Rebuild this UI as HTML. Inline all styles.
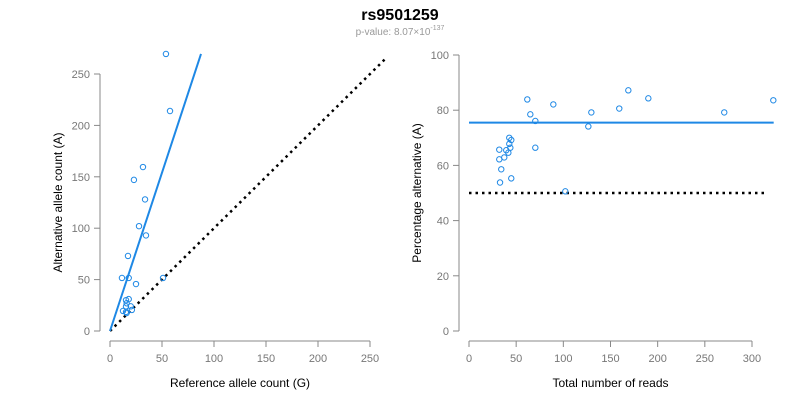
<!DOCTYPE html>
<html><head><meta charset="utf-8"><style>
body{margin:0;background:#fff;font-family:"Liberation Sans",Arial,sans-serif}
svg text{font-family:"Liberation Sans",Arial,sans-serif}
</style></head><body>
<svg id="c" width="800" height="400" xmlns="http://www.w3.org/2000/svg">
<text x="400" y="20" text-anchor="middle" font-size="16" font-weight="bold">rs9501259</text>
<text x="400" y="35" text-anchor="middle" font-size="10" fill="#999">p-value: 8.07×10<tspan dy="-5" font-size="7">-137</tspan></text>
</svg>
<script>
const leftX=[53.8,57.7,31.7,23,33.7,27.9,34.6,17.3,11.5,18,25,51,15.4,16,15.4,20,12.5,15.4,16,21,18];
const leftY=[269.5,214,159.5,147,128,102,93,73,51.6,51.6,45.7,51.6,30,27,24,24,19.5,18.5,17.5,20.5,31];
const leftTicksX=[0,50,100,150,200,250];
const leftTicksY=[0,50,100,150,200,250];
const leftFit=[0,87.5];const leftSlope=3.08;
const rightX=[61.8,89.4,168.9,190.1,322.6,65,129.7,159.3,270.6,70.3,126.5,42.7,44.8,42.7,43.8,32.1,39.5,41.7,70.3,37.4,32.1,34.2,44.8,32.9,102.1];
const rightY=[83.9,82.1,87.2,84.3,83.6,78.5,79.2,80.6,79.2,76.1,74.1,70,69.2,67.8,66.4,65.7,65.5,64.6,66.4,62.9,62.2,58.6,55.3,53.8,50.6];
const rightTicksX=[0,50,100,150,200,250,300];
const rightTicksY=[0,20,40,60,80,100];
const rightMean=75.5;const rightNull=50;
const NS="http://www.w3.org/2000/svg",svg=document.getElementById('c');
function mk(t,a,txt){const e=document.createElementNS(NS,t);for(const k in a)e.setAttribute(k,a[k]);if(txt!==undefined)e.textContent=txt;svg.appendChild(e);return e;}
function panel(p,xs,ys,tx,ty,xt,yt){
 const ax=mk('line',{x1:p.x(tx[0]),x2:p.x(tx[tx.length-1]),y1:341,y2:341,stroke:'#888'});
 
 tx.forEach(v=>{mk('line',{x1:p.x(v),x2:p.x(v),y1:341,y2:347,stroke:'#888'});
  const t=mk('text',{x:p.x(v),y:362,'text-anchor':'middle','font-size':11,fill:'#777'},v);
  });
 const ay=mk('line',{x1:p.ax,x2:p.ax,y1:p.y(ty[0]),y2:p.y(ty[ty.length-1]),stroke:'#888'});
 
 ty.forEach(v=>{mk('line',{x1:p.ax-6,x2:p.ax,y1:p.y(v),y2:p.y(v),stroke:'#888'});
  const t=mk('text',{x:p.ax-10,y:p.y(v)+4,'text-anchor':'end','font-size':11,fill:'#777'},v);
  });
 const a=mk('text',{x:(p.x(tx[0])+p.x(tx[tx.length-1]))/2,y:387,'text-anchor':'middle','font-size':12},xt);
 
 const cy=(p.y(ty[0])+p.y(ty[ty.length-1]))/2;
 const b=mk('text',{x:p.ax-38,y:cy,'text-anchor':'middle','font-size':12,transform:`rotate(-90 ${p.ax-38} ${cy})`},yt);
 
}
const L={n:'left',ax:100,x:v=>110+v*1.04,y:v=>331-v*1.028};
const R={n:'right',ax:459,x:v=>469+v*0.9433,y:v=>331-v*2.76};
panel(L,leftX,leftY,leftTicksX,leftTicksY,'Reference allele count (G)','Alternative allele count (A)');
panel(R,rightX,rightY,rightTicksX,rightTicksY,'Total number of reads','Percentage alternative (A)');
let e=mk('line',{x1:L.x(0),y1:L.y(0),x2:L.x(266),y2:L.y(266),stroke:'#000','stroke-width':2.5,'stroke-dasharray':'2.5,4'});

e=mk('line',{x1:L.x(leftFit[0]),y1:L.y(leftFit[0]*leftSlope),x2:L.x(leftFit[1]),y2:L.y(leftFit[1]*leftSlope),stroke:'#1e88e5','stroke-width':2});

leftX.forEach((v,i)=>{const c=mk('circle',{cx:L.x(v),cy:L.y(leftY[i]),r:2.7,fill:'none',stroke:'#1e88e5','stroke-width':1});
 });
e=mk('line',{x1:R.x(0),y1:R.y(rightNull),x2:R.x(316),y2:R.y(rightNull),stroke:'#000','stroke-width':2.5,'stroke-dasharray':'2.5,4'});

e=mk('line',{x1:R.x(0),y1:R.y(rightMean),x2:R.x(323),y2:R.y(rightMean),stroke:'#1e88e5','stroke-width':2});

rightX.forEach((v,i)=>{const c=mk('circle',{cx:R.x(v),cy:R.y(rightY[i]),r:2.7,fill:'none',stroke:'#1e88e5','stroke-width':1});
 });
</script>
</body></html>
